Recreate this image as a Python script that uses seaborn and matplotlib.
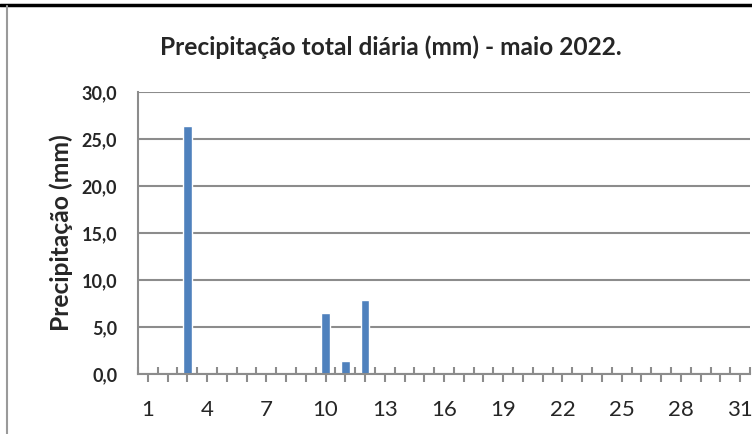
import numpy as np
import pandas as pd
import matplotlib
matplotlib.use("Agg")
import matplotlib.pyplot as plt
import seaborn as sns

# dados de precipitação diária - maio 2022
dias = list(range(1, 32))
chuva = [0.0, 0.0, 26.4, 0.0, 0.0, 0.0, 0.0, 0.0, 0.0, 6.5,
         1.4, 7.9, 0.0, 0.0, 0.0, 0.0, 0.0, 0.0, 0.0, 0.0,
         0.0, 0.0, 0.0, 0.0, 0.0, 0.0, 0.0, 0.0, 0.0, 0.0, 0.0]
yticks = [0, 5, 10, 15, 20, 25, 30]
xlabels_dias = list(range(1, 32, 3))

df = pd.DataFrame({"dia": dias, "chuva": chuva})

sns.set_style("white")
plt.rcParams['font.family'] = ['Lato', 'DejaVu Sans']


def ajusta_fonte(txt, largura_px, fig):
    # ajusta o tamanho da fonte para a largura medida na imagem original
    r = fig.canvas.get_renderer()
    w = txt.get_window_extent(renderer=r).width
    if txt.get_rotation() == 90:
        w = txt.get_window_extent(renderer=r).height
    txt.set_fontsize(txt.get_fontsize() * largura_px / w)


fig = plt.figure(figsize=(7.52, 4.34), dpi=100)
ax = fig.add_axes([138 / 752, 60 / 434, 612 / 752, 282 / 434])

sns.barplot(data=df, x="dia", y="chuva", order=dias, color="#4F81BD",
            saturation=1, width=0.43, ax=ax)

cinza = "#8C8C8C"
ax.set_xlim(-0.5, 30.5)
ax.set_ylim(0, 30)
ax.set_yticks(yticks)
ax.set_yticklabels([f"{v:.1f}".replace(".", ",") for v in yticks],
                   fontsize=13, fontweight="bold")
ax.yaxis.grid(True, color=cinza, linewidth=1.5)
ax.set_axisbelow(True)

# ticks: maiores no centro da categoria (para fora), menores nas divisas (para dentro)
ax.set_xticks(range(31))
ax.set_xticklabels([str(d) if d in xlabels_dias else "" for d in dias], fontsize=16)
ax.set_xticks(np.arange(-0.5, 31, 1), minor=True)
ax.tick_params(axis="x", which="major", direction="out", length=6, width=1.5,
               color=cinza, pad=13, bottom=True)
ax.tick_params(axis="x", which="minor", direction="in", length=5, width=1.5,
               color=cinza, bottom=True)
ax.tick_params(axis="y", length=0, pad=15)

for lado in ["top", "right"]:
    ax.spines[lado].set_visible(False)
for lado in ["left", "bottom"]:
    ax.spines[lado].set_color(cinza)
    ax.spines[lado].set_linewidth(1.5)

ax.set_xlabel("")
ax.set_ylabel("")
ylab = fig.text(61 / 752, 1 - 233 / 434, "Precipitação (mm)", rotation=90,
                ha="center", va="center", fontsize=16, fontweight="bold")
titulo = fig.text(391 / 752, 1 - 47 / 434, "Precipitação total diária (mm) - maio 2022.",
                  ha="center", va="center", fontsize=16, fontweight="bold")

ajusta_fonte(titulo, 462, fig)
ajusta_fonte(ylab, 197, fig)

# moldura do recorte
fig.add_artist(plt.Line2D([0, 1], [1 - 5 / 434, 1 - 5 / 434], color="black",
                          linewidth=2.5, transform=fig.transFigure))
fig.add_artist(plt.Line2D([7 / 752, 7 / 752], [0, 1 - 6 / 434], color="#9A9A9A",
                          linewidth=1.5, transform=fig.transFigure))

fig.savefig("out.png", dpi=100)
